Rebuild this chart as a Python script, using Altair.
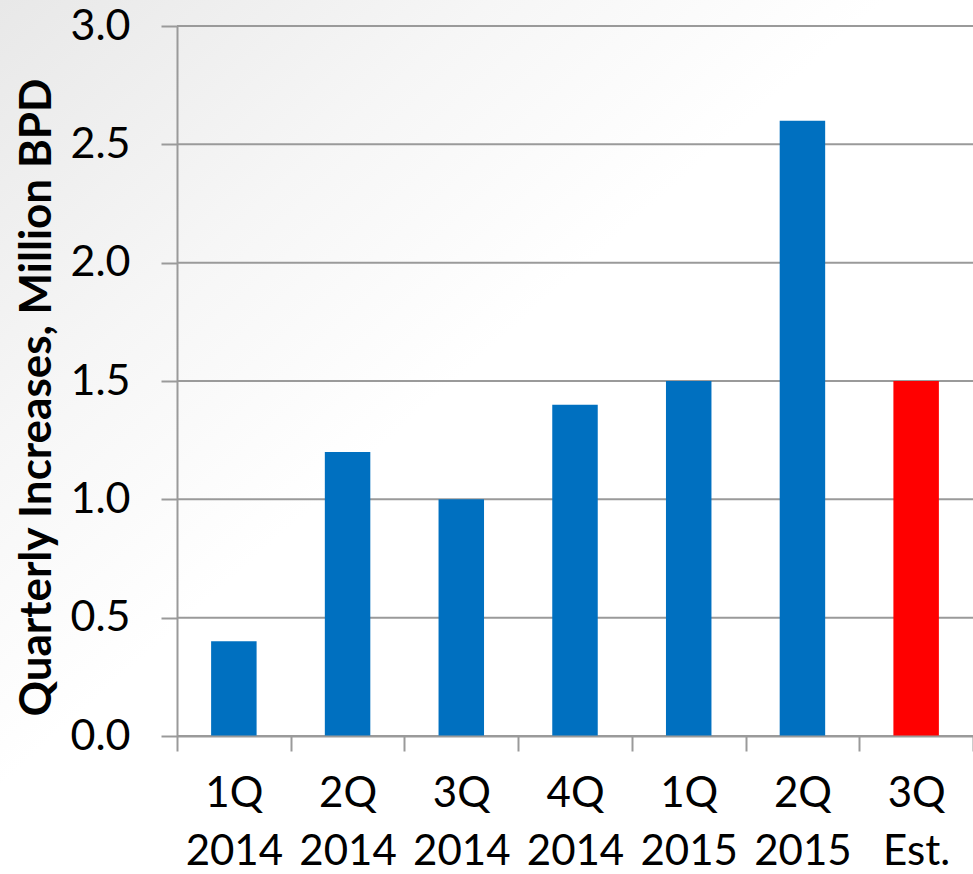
import altair as alt
import pandas as pd

# Quarterly increases in supply, million barrels per day
quarters = ["1Q 2014", "2Q 2014", "3Q 2014", "4Q 2014", "1Q 2015", "2Q 2015", "3Q Est."]
increases = [0.4, 1.2, 1.0, 1.4, 1.5, 2.6, 1.5]
kinds = ["Actual", "Actual", "Actual", "Actual", "Actual", "Actual", "Estimate"]
y_ticks = [0.0, 0.5, 1.0, 1.5, 2.0, 2.5, 3.0]

bars_df = pd.DataFrame({"quarter": quarters, "value": increases, "kind": kinds})
grid_df = pd.DataFrame({"tick": y_ticks})

W, H = 796, 710
PAD_L, PAD_T, PAD_B = 177, 26, 138
GRID = "#9a9a9a"
FONT = "Lato"

x_enc = alt.X(
    "quarter:N",
    sort=quarters,
    scale=alt.Scale(paddingInner=0, paddingOuter=0),
    axis=alt.Axis(
        title=None,
        labelExpr="split(datum.label, ' ')",
        labelFont=FONT,
        labelFontSize=42,
        labelColor="black",
        labelLineHeight=58,
        labelPadding=22,
        labelAngle=0,
        labelBaseline="top",
        tickBand="extent",
        tickSize=15,
        tickColor=GRID,
        tickWidth=2,
        domainColor=GRID,
        domainWidth=2,
        zindex=1,
    ),
)

y_scale = alt.Scale(domain=[0, 3], nice=False, zero=True)

# soft grey wash in the top-left corner of the figure
background = alt.Chart(pd.DataFrame({"a": [0]})).mark_rect(
    fill=alt.LinearGradient(
        gradient="linear",
        stops=[
            alt.GradientStop(color="#e8e8e8", offset=0),
            alt.GradientStop(color="#f6f6f6", offset=0.25),
            alt.GradientStop(color="#ffffff", offset=0.45),
        ],
        x1=0, y1=0, x2=1, y2=1,
    ),
    clip=False,
).encode(
    x=alt.value(-PAD_L), x2=alt.value(W + 10),
    y=alt.value(-PAD_T), y2=alt.value(H + PAD_B),
)

grid = alt.Chart(grid_df).mark_rule(color=GRID, strokeWidth=2).encode(
    y=alt.Y("tick:Q", scale=y_scale),
    x=alt.value(0),
    x2=alt.value(W + 10),
)

bars = alt.Chart(bars_df).mark_bar(width=alt.RelativeBandSize(0.4)).encode(
    x=x_enc,
    y=alt.Y(
        "value:Q",
        scale=y_scale,
        axis=alt.Axis(
            title="Quarterly Increases, Million BPD",
            titleFont=FONT,
            titleFontSize=44,
            titleFontWeight="bold",
            titleColor="black",
            titleX=-127,
            titleY=371,
            titleAngle=270,
            titleAlign="center",
            titleBaseline="alphabetic",
            values=y_ticks,
            format=".1f",
            labelFont=FONT,
            labelFontSize=43,
            labelColor="black",
            labelPadding=31,
            tickSize=16,
            tickColor=GRID,
            tickWidth=2,
            domainColor=GRID,
            domainWidth=2,
            grid=False,
            zindex=1,
        ),
    ),
    color=alt.Color(
        "kind:N",
        scale=alt.Scale(domain=["Actual", "Estimate"], range=["#0070c0", "#ff0000"]),
        legend=None,
    ),
)

chart = (
    alt.layer(background, grid, bars)
    .properties(
        width=W,
        height=H,
        autosize=alt.AutoSizeParams(type="none"),
        padding={"left": PAD_L, "top": PAD_T, "right": 0, "bottom": PAD_B},
        background="white",
    )
    .configure_view(stroke=None, clip=False)
)

chart.save("out.html", embed_options={"renderer": "svg", "actions": False})
